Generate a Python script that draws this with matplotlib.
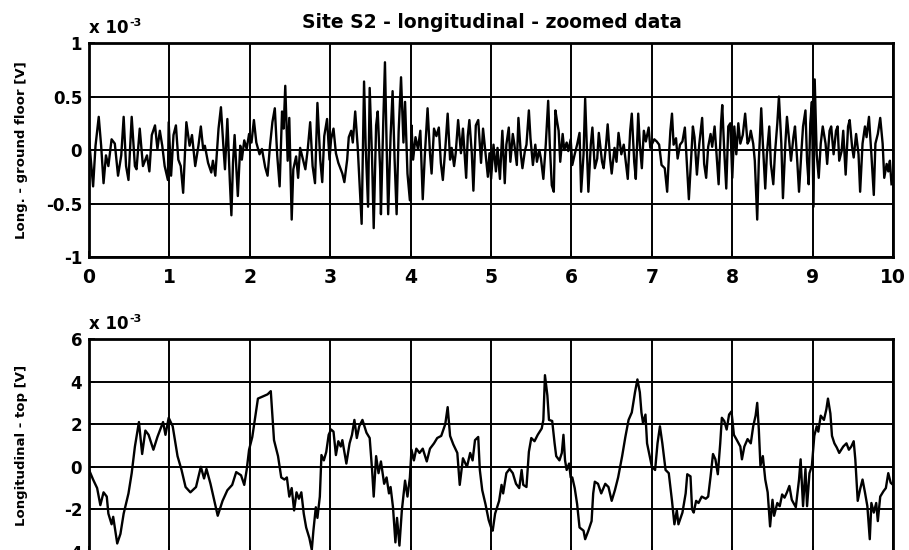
import matplotlib
matplotlib.use('Agg')
import matplotlib.pyplot as plt
from matplotlib.ticker import FuncFormatter

plt.rcParams['font.family'] = ['DejaVu Sans']
plt.rcParams['font.weight'] = 'bold'

# values, in units of 1e-3 V
t_ground = [0.0, 0.05, 0.08, 0.12, 0.15, 0.18, 0.21, 0.24, 0.28, 0.32, 0.36, 0.40, 0.43, 0.46, 0.49,
            0.53, 0.57, 0.59, 0.63, 0.67, 0.72, 0.75, 0.78, 0.82, 0.85, 0.88, 0.91, 0.94, 0.98, 0.99,
            1.02, 1.05, 1.08, 1.11, 1.14, 1.17, 1.21, 1.25, 1.28, 1.32, 1.36, 1.39, 1.42, 1.44, 1.48,
            1.52, 1.54, 1.57, 1.61, 1.64, 1.67, 1.69, 1.72, 1.75, 1.77, 1.79, 1.81, 1.85, 1.88, 1.90,
            1.93, 1.96, 1.99, 2.02, 2.05, 2.08, 2.12, 2.15, 2.19, 2.22, 2.25, 2.28, 2.31, 2.34, 2.37,
            2.40, 2.42, 2.44, 2.47, 2.49, 2.52, 2.54, 2.575, 2.60, 2.625, 2.66, 2.69, 2.72, 2.75, 2.78,
            2.81, 2.84, 2.875, 2.90, 2.925, 2.96, 2.99, 3.01, 3.04, 3.07, 3.10, 3.15, 3.175, 3.21, 3.23,
            3.26, 3.28, 3.31, 3.34, 3.37, 3.39, 3.42, 3.44, 3.47, 3.49, 3.52, 3.54, 3.57, 3.59, 3.62,
            3.63, 3.66, 3.68, 3.70, 3.72, 3.75, 3.775, 3.80, 3.825, 3.85, 3.88, 3.91, 3.93, 3.96, 3.99,
            4.01, 4.03, 4.06, 4.09, 4.12, 4.15, 4.175, 4.21, 4.24, 4.26, 4.29, 4.32, 4.35, 4.375, 4.40,
            4.43, 4.46, 4.49, 4.51, 4.54, 4.56, 4.59, 4.625, 4.65, 4.69, 4.71, 4.73, 4.76, 4.78, 4.81,
            4.84, 4.875, 4.90, 4.93, 4.96, 4.98, 5.0, 5.03, 5.06, 5.08, 5.11, 5.14, 5.17, 5.19, 5.22,
            5.24, 5.27, 5.29, 5.32, 5.34, 5.37, 5.39, 5.42, 5.44, 5.47, 5.49, 5.52, 5.55, 5.57, 5.60,
            5.62, 5.65, 5.68, 5.71, 5.73, 5.755, 5.78, 5.80, 5.82, 5.84, 5.86, 5.89, 5.91, 5.94, 5.96,
            5.99, 6.01, 6.04, 6.07, 6.10, 6.12, 6.15, 6.17, 6.19, 6.21, 6.24, 6.26, 6.29, 6.32, 6.34,
            6.38, 6.40, 6.43, 6.45, 6.48, 6.50, 6.535, 6.56, 6.585, 6.62, 6.65, 6.68, 6.70, 6.73, 6.75,
            6.78, 6.80, 6.83, 6.85, 6.875, 6.90, 6.925, 6.96, 6.98, 7.01, 7.03, 7.06, 7.09, 7.12, 7.16,
            7.19, 7.21, 7.23, 7.25, 7.27, 7.30, 7.32, 7.35, 7.38, 7.41, 7.44, 7.46, 7.51, 7.53, 7.56,
            7.59, 7.625, 7.65, 7.675, 7.70, 7.73, 7.75, 7.78, 7.81, 7.83, 7.86, 7.875, 7.90, 7.925, 7.95,
            7.975, 8.0, 8.025, 8.05, 8.075, 8.10, 8.13, 8.16, 8.19, 8.21, 8.23, 8.26, 8.28, 8.31, 8.33,
            8.36, 8.38, 8.41, 8.43, 8.46, 8.48, 8.51, 8.53, 8.56, 8.58, 8.61, 8.63, 8.66, 8.68, 8.71,
            8.73, 8.76, 8.78, 8.81, 8.83, 8.86, 8.88, 8.91, 8.93, 8.95, 8.97, 8.99, 9.01, 9.025, 9.05,
            9.075, 9.10, 9.125, 9.16, 9.18, 9.21, 9.23, 9.26, 9.29, 9.31, 9.33, 9.36, 9.38, 9.41, 9.44,
            9.46, 9.49, 9.51, 9.54, 9.57, 9.59, 9.62, 9.65, 9.67, 9.70, 9.73, 9.76, 9.78, 9.81, 9.84,
            9.87, 9.89, 9.92, 9.94, 9.96, 9.98]
v_ground = [0.10, -0.34, 0.04, 0.31, 0.04, -0.31, -0.05, -0.15, 0.10, 0.06, -0.24, -0.05, 0.31, -0.15, -0.28,
            0.31, -0.15, -0.18, 0.20, -0.15, -0.05, -0.20, 0.14, 0.23, 0.01, 0.18, 0.04, -0.15, -0.28, 0.26,
            -0.24, 0.14, 0.23, -0.09, -0.15, -0.40, 0.26, 0.04, 0.14, -0.15, 0.04, 0.22, 0.0, 0.04, -0.12,
            -0.21, -0.10, -0.24, 0.20, 0.40, 0.04, -0.18, 0.29, -0.28, -0.61, -0.12, 0.14, -0.43, 0.04, -0.09,
            0.09, 0.01, 0.15, 0.07, 0.28, 0.07, -0.04, 0.01, -0.16, -0.24, 0.04, 0.26, 0.39, -0.05, -0.34,
            0.36, 0.20, 0.60, -0.10, 0.30, -0.65, -0.18, -0.06, -0.26, 0.02, -0.09, -0.18, 0.01, 0.26, -0.15,
            -0.31, 0.44, -0.09, -0.30, 0.13, 0.29, -0.09, 0.10, 0.20, -0.03, -0.12, -0.22, -0.30, -0.09, 0.12,
            0.18, 0.07, 0.36, 0.04, -0.41, -0.69, 0.64, 0.04, -0.53, 0.58, -0.09, -0.73, 0.23, 0.36, -0.18,
            -0.60, 0.29, 0.82, 0.07, -0.60, 0.13, 0.55, -0.09, -0.60, 0.17, 0.68, 0.07, 0.45, -0.22, -0.47,
            0.23, -0.09, 0.12, 0.01, 0.18, -0.46, -0.06, 0.39, -0.03, -0.22, 0.20, 0.13, 0.21, -0.12, -0.28,
            0.01, 0.34, -0.09, 0.02, -0.15, -0.03, 0.28, -0.03, 0.20, -0.26, 0.13, 0.28, -0.03, -0.38, 0.23,
            0.28, -0.12, 0.20, -0.03, -0.25, -0.03, -0.27, 0.05, -0.20, 0.02, -0.27, 0.18, -0.31, 0.05, 0.21,
            -0.11, 0.15, 0.05, -0.14, 0.30, -0.04, -0.17, -0.01, 0.05, 0.37, 0.11, -0.14, 0.05, -0.11, 0.0,
            -0.08, -0.27, 0.05, 0.46, 0.05, -0.33, -0.39, 0.37, 0.27, 0.18, -0.11, 0.15, 0.0, 0.07, -0.01,
            0.10, -0.14, -0.04, 0.05, 0.16, -0.39, -0.04, 0.48, 0.05, -0.39, 0.05, 0.21, -0.17, -0.08, 0.16,
            -0.11, -0.17, 0.05, 0.24, -0.08, -0.22, 0.02, -0.11, 0.16, -0.04, 0.05, -0.14, -0.27, 0.18, 0.34,
            -0.11, -0.27, 0.34, 0.05, -0.17, 0.18, 0.08, 0.21, 0.02, 0.07, 0.10, 0.08, 0.05, -0.14, -0.17,
            -0.39, -0.08, 0.18, 0.34, 0.05, 0.11, -0.08, 0.05, 0.08, 0.21, -0.20, -0.46, 0.22, 0.12, -0.23,
            0.06, 0.30, -0.13, -0.26, 0.03, 0.15, 0.03, 0.22, -0.10, -0.32, 0.25, 0.42, -0.01, -0.36, 0.22,
            0.25, -0.26, 0.22, -0.04, 0.25, 0.06, 0.14, 0.34, 0.06, 0.09, 0.18, 0.06, -0.10, -0.65, -0.10,
            0.39, 0.06, -0.36, -0.04, 0.22, -0.13, -0.32, -0.04, 0.25, 0.50, 0.06, -0.45, 0.06, 0.31, 0.06,
            -0.10, 0.12, 0.22, -0.13, -0.39, -0.01, 0.22, 0.37, -0.10, -0.32, 0.25, 0.45, -0.53, 0.66, -0.04,
            -0.26, 0.06, 0.22, 0.06, -0.13, 0.18, 0.22, -0.04, 0.18, 0.22, -0.10, -0.01, 0.18, -0.23, 0.22,
            0.28, 0.03, -0.07, 0.15, -0.04, -0.39, 0.06, 0.22, 0.12, 0.31, -0.04, -0.42, 0.06, 0.15, 0.30,
            0.06, -0.26, -0.13, -0.20, -0.10, -0.32]

t_top = [0.0, 0.05, 0.10, 0.14, 0.18, 0.22, 0.24, 0.28, 0.30, 0.35, 0.39, 0.43, 0.49, 0.53, 0.57,
         0.62, 0.66, 0.70, 0.74, 0.80, 0.85, 0.92, 0.95, 0.99, 1.04, 1.10, 1.15, 1.20, 1.26, 1.33,
         1.39, 1.43, 1.46, 1.51, 1.60, 1.66, 1.72, 1.78, 1.83, 1.89, 1.93, 1.96, 1.99, 2.03, 2.10,
         2.16, 2.22, 2.26, 2.30, 2.35, 2.39, 2.43, 2.46, 2.49, 2.52, 2.55, 2.58, 2.61, 2.64, 2.67,
         2.70, 2.74, 2.77, 2.79, 2.82, 2.84, 2.87, 2.89, 2.92, 2.95, 2.98, 3.01, 3.04, 3.07, 3.10,
         3.13, 3.15, 3.20, 3.24, 3.27, 3.30, 3.33, 3.36, 3.40, 3.45, 3.49, 3.52, 3.54, 3.57, 3.60,
         3.63, 3.67, 3.70, 3.73, 3.75, 3.78, 3.81, 3.83, 3.86, 3.89, 3.93, 3.96, 3.99, 4.01, 4.04,
         4.07, 4.11, 4.15, 4.20, 4.24, 4.29, 4.33, 4.38, 4.43, 4.46, 4.49, 4.53, 4.58, 4.61, 4.65,
         4.70, 4.74, 4.77, 4.80, 4.84, 4.86, 4.89, 4.93, 4.97, 5.00, 5.02, 5.05, 5.10, 5.13, 5.15,
         5.19, 5.23, 5.27, 5.31, 5.35, 5.38, 5.40, 5.44, 5.47, 5.50, 5.54, 5.58, 5.63, 5.65, 5.67,
         5.70, 5.72, 5.76, 5.79, 5.81, 5.85, 5.88, 5.90, 5.92, 5.94, 5.97, 5.99, 6.01, 6.04, 6.07,
         6.10, 6.15, 6.17, 6.21, 6.25, 6.27, 6.29, 6.33, 6.37, 6.42, 6.46, 6.50, 6.54, 6.58, 6.63,
         6.67, 6.71, 6.75, 6.79, 6.82, 6.85, 6.87, 6.89, 6.92, 6.94, 6.97, 7.00, 7.04, 7.07, 7.10,
         7.13, 7.17, 7.21, 7.25, 7.28, 7.31, 7.33, 7.38, 7.42, 7.44, 7.48, 7.50, 7.52, 7.55, 7.58,
         7.62, 7.67, 7.70, 7.73, 7.76, 7.79, 7.82, 7.85, 7.87, 7.90, 7.93, 7.96, 7.99, 8.02, 8.05,
         8.10, 8.12, 8.15, 8.19, 8.23, 8.26, 8.29, 8.31, 8.33, 8.35, 8.38, 8.41, 8.44, 8.47, 8.50,
         8.52, 8.56, 8.59, 8.62, 8.65, 8.68, 8.71, 8.74, 8.79, 8.83, 8.85, 8.88, 8.91, 8.93, 8.96,
         8.99, 9.02, 9.05, 9.07, 9.10, 9.14, 9.17, 9.19, 9.22, 9.24, 9.27, 9.30, 9.33, 9.38, 9.42,
         9.45, 9.48, 9.51, 9.53, 9.56, 9.59, 9.62, 9.65, 9.68, 9.71, 9.73, 9.76, 9.79, 9.81, 9.84,
         9.88, 9.91, 9.94, 9.97, 10.0]
v_top = [-0.15, -0.6, -1.0, -1.8, -1.2, -1.4, -2.2, -2.7, -2.35, -3.6, -3.15, -2.2, -1.25, -0.3, 0.95,
         2.1, 0.6, 1.7, 1.5, 0.8, 1.4, 2.1, 1.5, 2.3, 1.9, 0.5, -0.15, -0.95, -1.2, -0.95,
         0.0, -0.55, -0.1, -0.8, -2.3, -1.6, -1.1, -0.85, -0.25, -0.4, -0.85, -0.15, 0.8, 1.4, 3.2,
         3.3, 3.4, 3.55, 1.25, 0.5, -0.5, -0.6, -0.5, -1.4, -1.0, -2.05, -1.2, -1.5, -1.2, -2.2,
         -2.85, -3.35, -3.9, -3.0, -1.9, -2.4, -1.4, 0.55, 0.3, 0.7, 1.5, 1.75, 1.65, 0.55, 1.2,
         0.95, 1.25, 0.15, 1.1, 1.5, 2.2, 1.35, 1.9, 2.2, 1.6, 1.35, -0.15, -1.4, 0.5, -0.3,
         0.25, -0.8, -0.5, -1.25, -0.95, -1.9, -3.55, -2.4, -3.7, -2.05, -0.65, -1.4, -0.5, 0.8, 0.3,
         0.85, 0.65, 0.85, 0.25, 0.85, 1.1, 1.35, 1.45, 2.0, 2.8, 1.45, 1.05, 0.65, -0.85, 0.4,
         0.0, 0.65, 0.3, 1.25, 1.4, -0.15, -1.1, -1.75, -2.5, -2.85, -3.0, -2.2, -1.6, -0.85, -1.25,
         -0.3, -0.1, -0.3, -0.8, -1.0, -0.15, -0.85, -0.95, 0.7, 1.35, 1.2, 1.5, 1.8, 2.2, 4.3,
         3.35, 2.2, 2.15, 1.1, 0.5, 0.3, 0.65, 1.5, 0.3, -0.15, 0.15, -0.5, -0.5, -1.0, -1.75,
         -2.85, -3.0, -3.4, -3.0, -2.55, -1.25, -0.7, -0.8, -1.25, -0.8, -0.95, -1.6, -1.1, -0.5, 0.5,
         1.4, 2.2, 2.55, 3.5, 4.1, 3.5, 2.55, 2.05, 2.45, 1.1, 0.55, 0.0, -0.15, 1.1, 1.9,
         1.1, -0.15, -0.3, -1.6, -2.7, -2.05, -2.7, -2.15, -1.25, -0.35, -0.45, -2.0, -2.15, -1.6, -1.7,
         -1.4, -1.5, -1.4, -0.45, 0.6, 0.35, -0.35, 1.1, 2.3, 2.15, 1.75, 2.45, 2.6, 1.5, 1.3,
         0.95, 0.35, 0.95, 1.3, 1.1, 1.9, 2.4, 3.0, 1.75, 0.05, 0.5, -0.6, -1.2, -2.8, -1.55,
         -2.3, -1.7, -1.85, -1.3, -1.45, -1.2, -0.9, -1.55, -1.9, -0.6, 0.35, -1.85, -0.1, -1.85, -0.3,
         0.05, 1.45, 1.9, 1.65, 2.4, 2.2, 2.7, 3.2, 2.5, 1.45, 1.1, 0.9, 0.65, 0.95, 1.1,
         0.8, 0.95, 1.2, 0.35, -1.6, -1.05, -0.6, -1.2, -1.85, -3.4, -1.7, -2.15, -1.7, -2.55, -1.4,
         -1.15, -1.0, -0.3, -0.75, -0.85]

x_ticks = list(range(0, 11))
y_ticks_ground = [-1, -0.5, 0, 0.5, 1]
y_ticks_top = [-4, -2, 0, 2, 4, 6]
scale = 1e-3

fig = plt.figure(figsize=(9.09, 5.5), dpi=100)
ax1 = fig.add_axes([0.098, 0.5327, 0.8845, 0.3891])
ax2 = fig.add_axes([0.098, -0.0036, 0.8845, 0.3873])

fmt = FuncFormatter(lambda v, p: '%g' % round(v / scale, 6))

panels = [
    (ax1, t_ground, v_ground, y_ticks_ground, 'Long. - ground floor [V]'),
    (ax2, t_top, v_top, y_ticks_top, 'Longitudinal - top [V]'),
]
for ax, t, v, yt, lab in panels:
    ax.plot(t, [y * scale for y in v], color='black', linewidth=1.7)
    ax.set_xlim(0, 10)
    ax.set_ylim(yt[0] * scale, yt[-1] * scale)
    ax.set_xticks(x_ticks)
    ax.set_yticks([y * scale for y in yt])
    ax.yaxis.set_major_formatter(fmt)
    ax.grid(True, color='black', linewidth=1.4, linestyle='-')
    ax.tick_params(axis='both', direction='in', length=4, width=1.2, color='black')
    ax.tick_params(axis='y', labelsize=12, pad=5)
    ax.tick_params(axis='x', labelsize=13.5, pad=8)
    for s in ax.spines.values():
        s.set_linewidth(2)
    pos = ax.get_position()
    y_mid = pos.y0 + pos.height / 2 if ax is ax1 else 1 - 445 / 550
    fig.text(0.024, y_mid, lab, rotation=90, ha='center', va='center', fontsize=9.5, fontweight='bold')
    # MATLAB style exponent label above the axes
    fig.text(0.098, pos.y1 + 10 / 550, 'x 10', fontsize=12, fontweight='bold', va='baseline')
    fig.text(0.1425, pos.y1 + 17 / 550, '-3', fontsize=8, fontweight='bold', va='baseline')

# the lower panel's x labels fall below the cropped scan
ax2.tick_params(axis='x', labelbottom=False)

fig.text(0.541, 1 - 28 / 550, 'Site S2 - longitudinal - zoomed data', ha='center', va='baseline',
         fontsize=13.5, fontweight='bold')

fig.savefig('out.png', dpi=100)
